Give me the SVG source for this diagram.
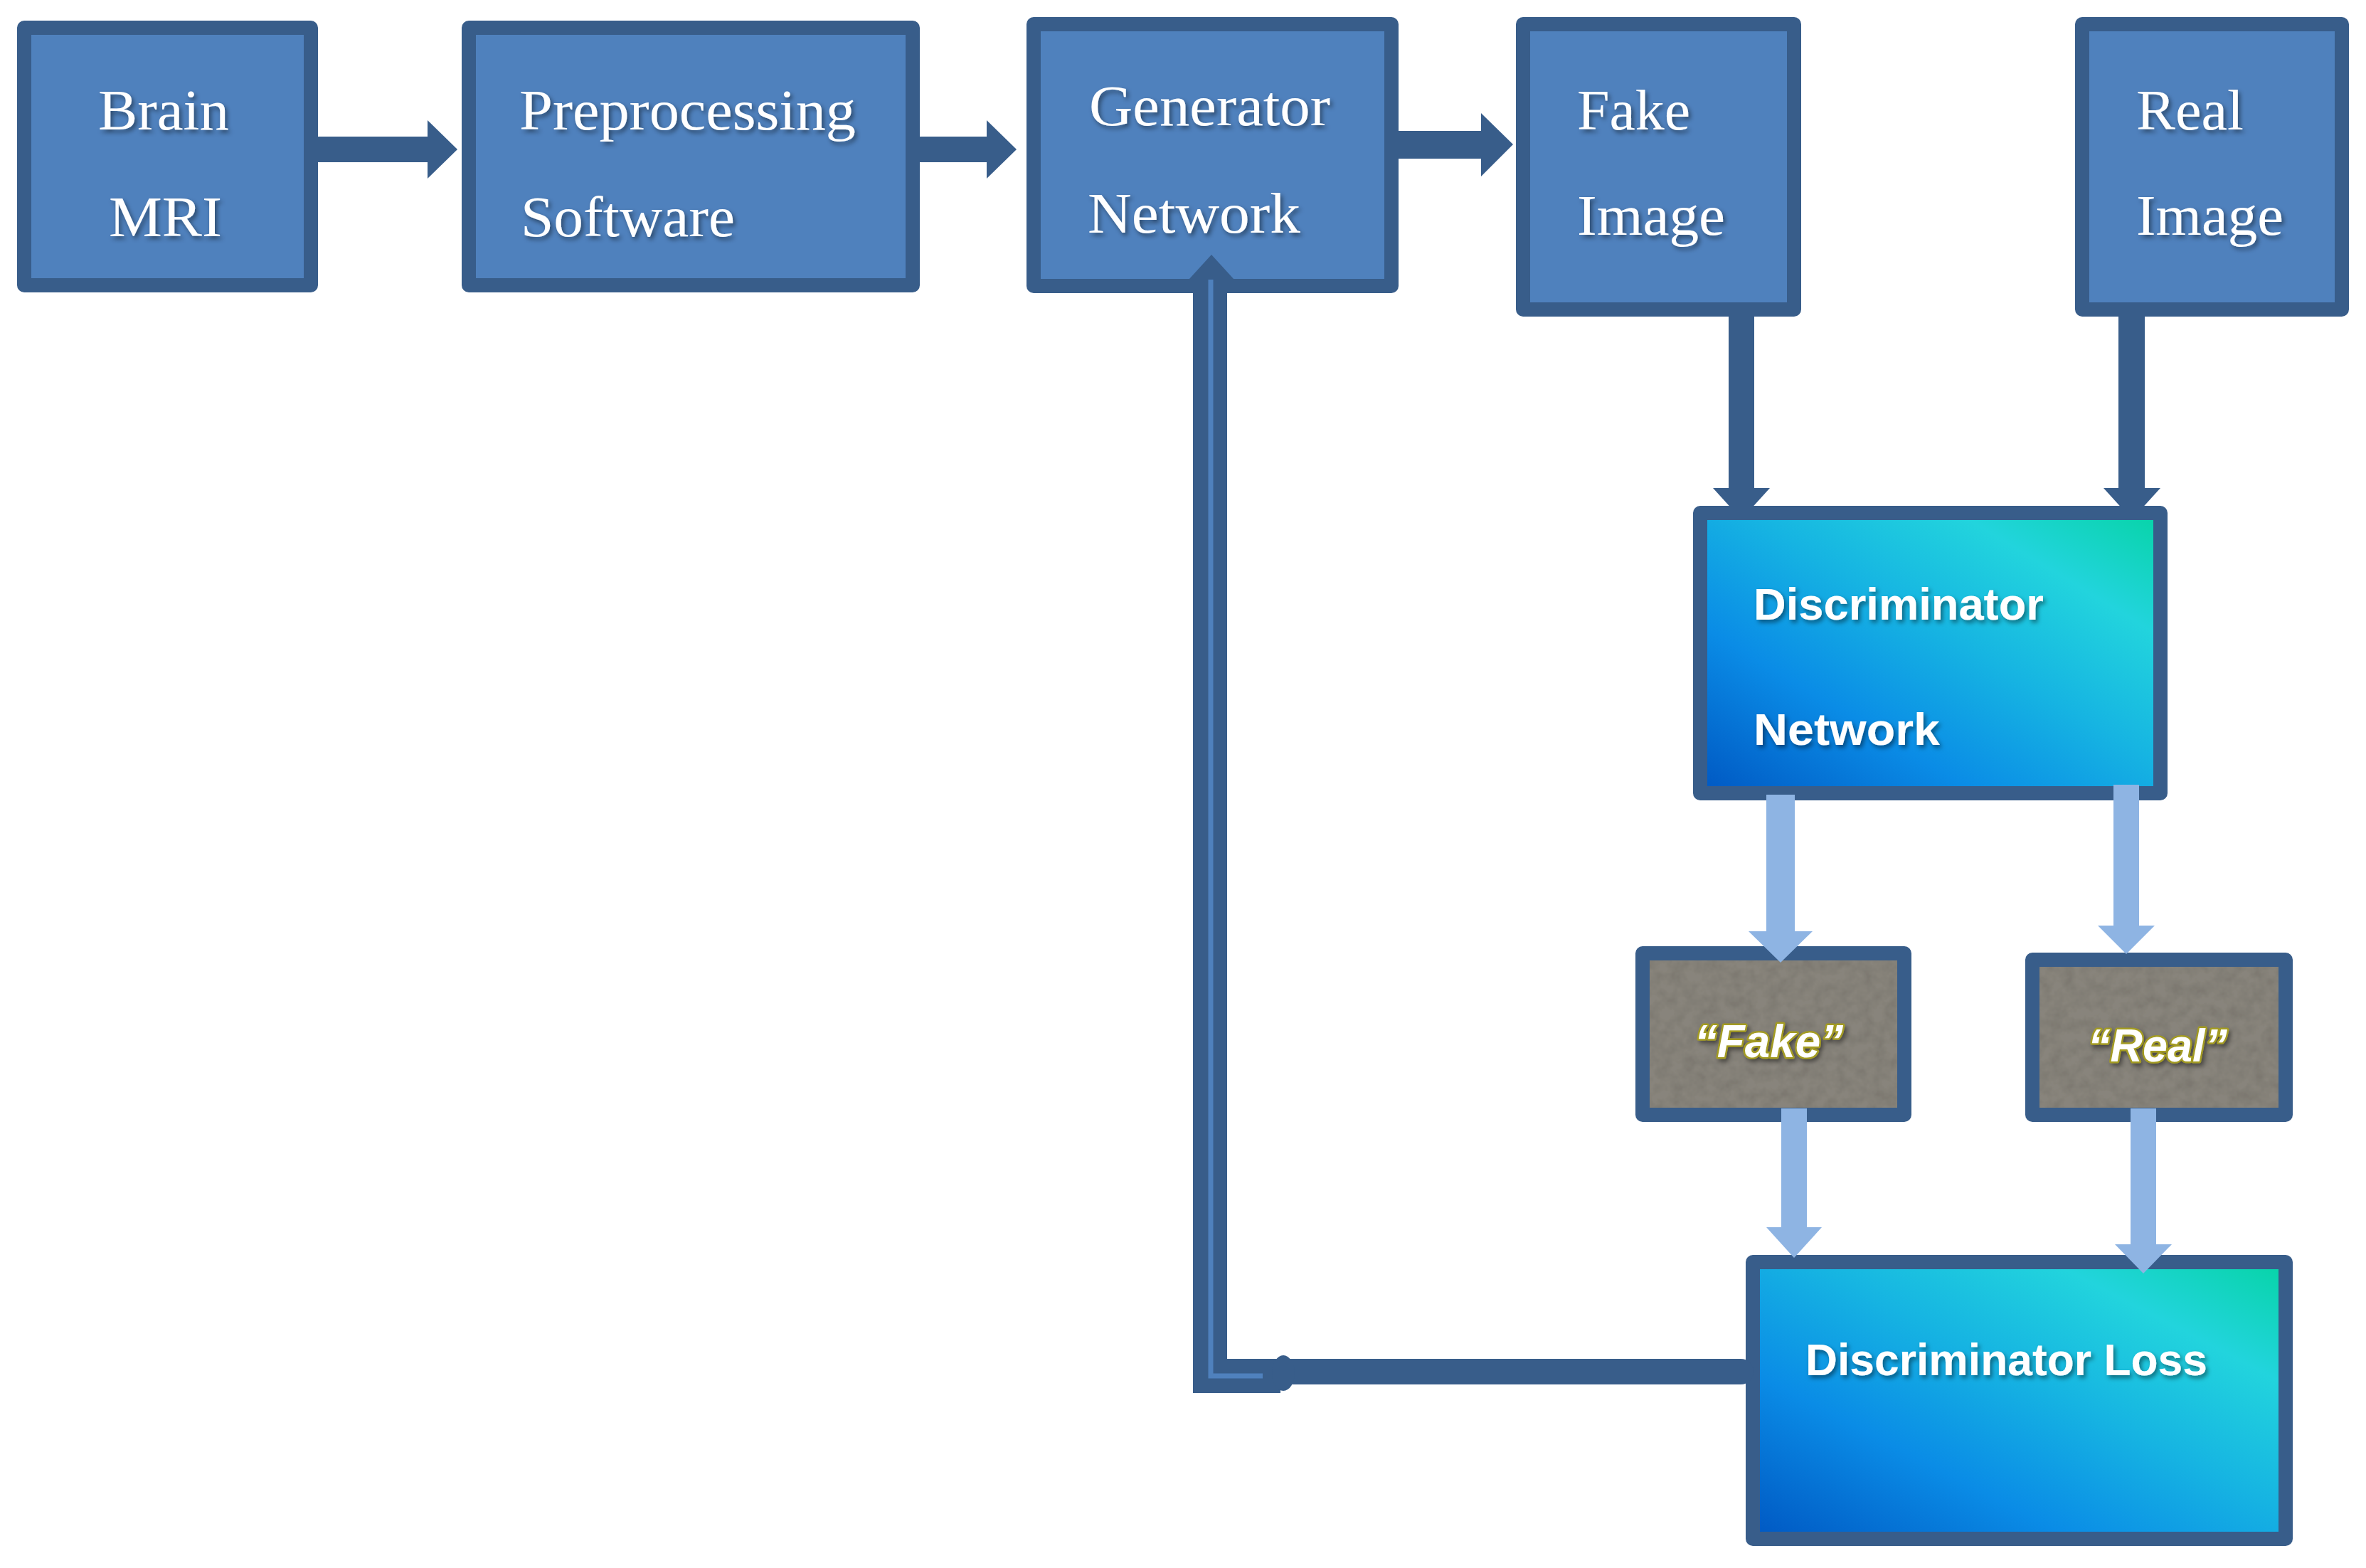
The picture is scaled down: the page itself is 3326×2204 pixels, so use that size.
<svg xmlns="http://www.w3.org/2000/svg" width="3326" height="2204" viewBox="0 0 3326 2204">
<defs>
<style>
.box{fill:#4F81BD;stroke:#385D8A;stroke-width:20;stroke-linejoin:round}
.gbox{fill:url(#grad);stroke:#385D8A;stroke-width:20;stroke-linejoin:round}
.lfill{fill:#88847c}
.lborder{fill:none;stroke:#385D8A;stroke-width:20;stroke-linejoin:round}
.serif{font-family:"Liberation Serif","Times New Roman",serif;font-size:80px;fill:#ffffff;filter:url(#shadow)}
.sans{font-family:"Liberation Sans",Arial,sans-serif;font-weight:bold;font-size:63px;fill:#ffffff;filter:url(#shadow)}
.lab{font-family:"Liberation Sans",Arial,sans-serif;font-weight:bold;font-style:italic;font-size:64px;fill:#ffffff;stroke:#A39B22;stroke-width:5;paint-order:stroke;stroke-linejoin:round;filter:url(#shadow)}
.dark{fill:#385D8A}
.light{fill:#8EB4E3}
</style>
<linearGradient id="grad" x1="0" y1="1" x2="1" y2="0">
<stop offset="0" stop-color="#0057C2"/>
<stop offset="0.3" stop-color="#0A8CE6"/>
<stop offset="0.55" stop-color="#16B4E2"/>
<stop offset="0.78" stop-color="#22D4DD"/>
<stop offset="1" stop-color="#06D4A6"/>
</linearGradient>
<filter id="shadow" x="-10%" y="-30%" width="120%" height="160%">
<feDropShadow dx="3" dy="4" stdDeviation="3" flood-color="#000000" flood-opacity="0.45"/>
</filter>
<filter id="grain" x="0" y="0" width="100%" height="100%">
<feTurbulence type="fractalNoise" baseFrequency="0.06" numOctaves="3" seed="5" result="n"/>
<feColorMatrix in="n" type="matrix" values="0 0 0 0 0  0 0 0 0 0  0 0 0 0 0  0.35 0 0 0 -0.12" result="a"/>
<feComposite in="a" in2="SourceGraphic" operator="in" result="d"/>
<feMerge><feMergeNode in="SourceGraphic"/><feMergeNode in="d"/></feMerge>
</filter>
</defs>
<rect width="3326" height="2204" fill="#ffffff"/>

<g id="connectors-under">
<rect class="dark" x="2430" y="440" width="36" height="250"/>
<polygon class="dark" points="2408,686 2488,686 2448,730"/>
<rect class="dark" x="2978" y="440" width="37" height="250"/>
<polygon class="dark" points="2957,686 3037,686 2997,730"/>
</g>

<g id="brain-mri">
<rect class="box" x="34" y="39" width="403" height="362"/>
<text class="serif" x="138" y="182" textLength="184" lengthAdjust="spacingAndGlyphs">Brain</text>
<text class="serif" x="153" y="332" textLength="159" lengthAdjust="spacingAndGlyphs">MRI</text>
</g>
<g id="preprocessing-software">
<rect class="box" x="659" y="39" width="624" height="362"/>
<text class="serif" x="730" y="182" textLength="473" lengthAdjust="spacingAndGlyphs">Preprocessing</text>
<text class="serif" x="732" y="332" textLength="301" lengthAdjust="spacingAndGlyphs">Software</text>
</g>
<g id="generator-network">
<rect class="box" x="1453" y="34" width="503" height="368"/>
<text class="serif" x="1531" y="176" textLength="339" lengthAdjust="spacingAndGlyphs">Generator</text>
<text class="serif" x="1529" y="327" textLength="299" lengthAdjust="spacingAndGlyphs">Network</text>
</g>
<g id="fake-image">
<rect class="box" x="2141" y="34" width="381" height="401"/>
<text class="serif" x="2217" y="182" textLength="159" lengthAdjust="spacingAndGlyphs">Fake</text>
<text class="serif" x="2217" y="330" textLength="208" lengthAdjust="spacingAndGlyphs">Image</text>
</g>
<g id="real-image">
<rect class="box" x="2927" y="34" width="365" height="401"/>
<text class="serif" x="3003" y="182" textLength="151" lengthAdjust="spacingAndGlyphs">Real</text>
<text class="serif" x="3003" y="330" textLength="207" lengthAdjust="spacingAndGlyphs">Image</text>
</g>
<g id="discriminator-network">
<rect class="gbox" x="2390" y="721" width="647" height="394"/>
<text class="sans" x="2465" y="871" textLength="408" lengthAdjust="spacingAndGlyphs">Discriminator</text>
<text class="sans" x="2465" y="1047" textLength="262" lengthAdjust="spacingAndGlyphs">Network</text>
</g>
<g id="label-fake">
<rect class="lfill" x="2309" y="1340" width="368" height="227" filter="url(#grain)"/>
<rect class="lborder" x="2309" y="1340" width="368" height="227"/>
<text class="lab" x="2382" y="1486" textLength="209" lengthAdjust="spacingAndGlyphs">“Fake”</text>
</g>
<g id="label-real">
<rect class="lfill" x="2857" y="1349" width="356" height="218" filter="url(#grain)"/>
<rect class="lborder" x="2857" y="1349" width="356" height="218"/>
<text class="lab" x="2935" y="1492" textLength="196" lengthAdjust="spacingAndGlyphs">“Real”</text>
</g>
<g id="discriminator-loss">
<rect class="gbox" x="2464" y="1774" width="749" height="389"/>
<text class="sans" x="2538" y="1933" font-size="62" textLength="565" lengthAdjust="spacingAndGlyphs">Discriminator Loss</text>
</g>

<g id="connectors">
<rect class="dark" x="445" y="192" width="158" height="36"/>
<polygon class="dark" points="601,169 643,210 601,251"/>
<rect class="dark" x="1291" y="192" width="98" height="36"/>
<polygon class="dark" points="1387,169 1429,210 1387,251"/>
<rect class="dark" x="1964" y="184" width="120" height="39"/>
<polygon class="dark" points="2082,159 2127,203 2082,248"/>
<rect class="light" x="2483" y="1117" width="40" height="194"/>
<polygon class="light" points="2458,1309 2548,1309 2503,1353"/>
<rect class="light" x="2971" y="1103" width="36" height="200"/>
<polygon class="light" points="2949,1301 3029,1301 2989,1341"/>
<rect class="light" x="2504" y="1558" width="36" height="169"/>
<polygon class="light" points="2483,1725 2561,1725 2522,1768"/>
<rect class="light" x="2995" y="1558" width="36" height="193"/>
<polygon class="light" points="2973,1749 3053,1749 3013,1790"/>
<line x1="2447" y1="1928" x2="1804" y2="1928" stroke="#385D8A" stroke-width="36" stroke-linecap="round"/>
<path d="M1800,1934 H1701 V392" fill="none" stroke="#385D8A" stroke-width="48" stroke-linejoin="miter"/>
<path d="M1775,1934 H1702 V392" fill="none" stroke="#4F81BD" stroke-width="7"/>
<ellipse class="dark" cx="1804" cy="1930" rx="16" ry="25"/>
<polygon class="dark" points="1671,393 1735,393 1703,358"/>
</g>
</svg>
